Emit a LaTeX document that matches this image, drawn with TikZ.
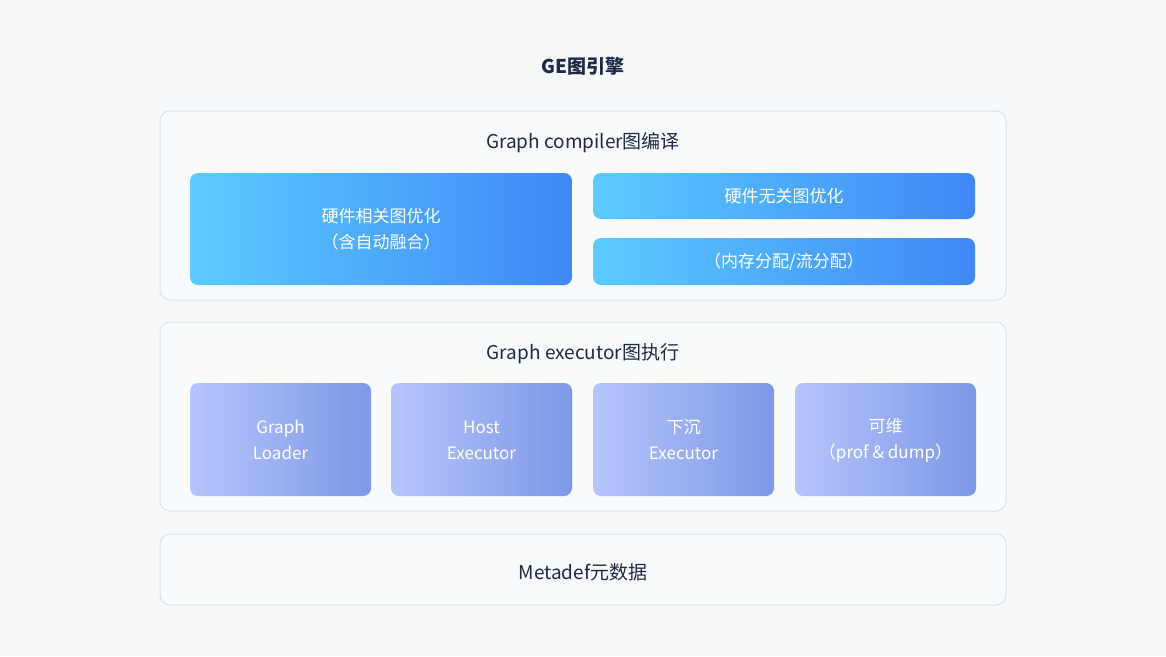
\documentclass[tikz,border=0pt]{standalone}
\usepackage{fontspec}
\setmainfont{Noto Sans CJK SC}
\definecolor{bg}{HTML}{F6F8FA}
\definecolor{panel}{HTML}{F8FAFC}
\definecolor{pborder}{HTML}{DCE2EA}
\definecolor{ink}{HTML}{1F2A44}
\definecolor{bA}{HTML}{5CCBFF}
\definecolor{bB}{HTML}{3F88F6}
\definecolor{pA}{HTML}{B6C4FD}
\definecolor{pB}{HTML}{7E98E6}
\begin{document}
\begin{tikzpicture}[x=1pt,y=-1pt,
  panelbox/.style={draw=pborder,line width=1pt,fill=panel,rounded corners=10pt},
  bluebox/.style={rounded corners=8pt,left color=bA,right color=bB,text=white,font=\fontsize{17}{22}\selectfont,align=center},
  purplebox/.style={rounded corners=8pt,left color=pA,right color=pB,text=white,font=\fontsize{17}{24}\selectfont,align=center},
  ptitle/.style={text=ink,font=\fontsize{19}{24}\selectfont}]
\fill[bg] (0,0) rectangle (1166,656);
\node[text=ink,font=\fontsize{19}{24}\selectfont\bfseries] (title) at (583,66) {GE图引擎};
\draw[panelbox] (160,111) rectangle (1006,300);
\draw[panelbox] (160,322) rectangle (1006,511);
\draw[panelbox] (160,534) rectangle (1006,605);
\node[ptitle] (t1) at (583,143) {Graph compiler图编译};
\node[ptitle] (t2) at (583,354) {Graph executor图执行};
\node[ptitle] (t3) at (583,572) {Metadef元数据};
\path[bluebox] (190,173) rectangle (572,285);
\node[text=white,font=\fontsize{17}{26}\selectfont,align=center] (a) at (381,229) {硬件相关图优化\\（含自动融合）};
\path[bluebox] (593,173) rectangle (975,219);
\node[text=white,font=\fontsize{17}{22}\selectfont] (b) at (784,196) {硬件无关图优化};
\path[bluebox] (593,238) rectangle (975,285);
\node[text=white,font=\fontsize{17}{22}\selectfont] (c) at (784,262) {（内存分配/流分配）};
\foreach \x/\n/\t in {190/g1/{Graph\\Loader},391/g2/{Host\\Executor},593/g3/{下沉\\Executor},795/g4/{可维\\（prof \& dump）}}{
  \path[purplebox] (\x,383) rectangle (\x+181,496);
  \node[text=white,font=\fontsize{17}{26}\selectfont,align=center] (\n) at (\x+90.5,440) {\t};
}
\end{tikzpicture}
\end{document}
